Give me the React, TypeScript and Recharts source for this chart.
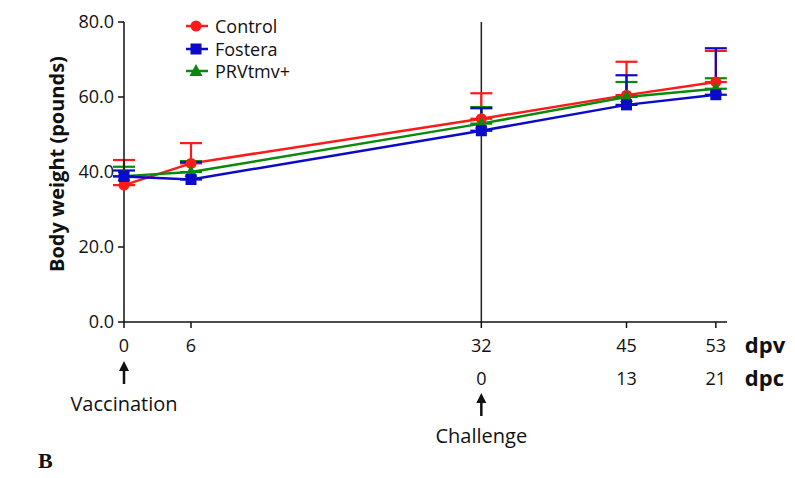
import React from "react"
import { LineChart, Line, XAxis, YAxis, ErrorBar, ReferenceLine } from "recharts"

// days post vaccination
const days = [0, 6, 32, 45, 53]
const dpcLabels = ["", "", "0", "13", "21"]
const events = [
  { day: 0, label: "Vaccination", row: 0 },
  { day: 32, label: "Challenge", row: 1 },
]

const controlMean = [36.5, 42.3, 54.2, 60.5, 64.0]
const controlSd = [6.7, 5.4, 6.8, 8.9, 8.3]
const fosteraMean = [38.8, 38.0, 51.0, 57.9, 60.6]
const fosteraSd = [1.6, 4.6, 6.0, 7.9, 12.4]
const prvMean = [38.9, 40.0, 52.9, 60.0, 62.2]
const prvSd = [2.5, 2.9, 4.4, 4.0, 2.8]

const yTicks = [0, 20, 40, 60, 80]

const RED = "#ff1a1a"
const BLUE = "#0a0ac8"
const GREEN = "#0a8a0a"
const FONT = "'Open Sans', 'Liberation Sans', sans-serif"

const data = days.map((d, i) => ({
  day: d,
  control: controlMean[i],
  controlErr: [0, controlSd[i]],
  fostera: fosteraMean[i],
  fosteraErr: [0, fosteraSd[i]],
  prv: prvMean[i],
  prvErr: [0, prvSd[i]],
}))

const series = [
  { key: "control", name: "Control", color: RED, shape: "circle" },
  { key: "prv", name: "PRVtmv+", color: GREEN, shape: "triangle" },
  { key: "fostera", name: "Fostera", color: BLUE, shape: "square" },
]
const legendOrder = ["control", "fostera", "prv"]

function Marker({ cx, cy, shape, color }: any) {
  if (cx == null || cy == null) return null
  if (shape === "circle") return <circle cx={cx} cy={cy} r={5.5} fill={color} />
  if (shape === "square") return <rect x={cx - 5.5} y={cy - 5.5} width={11} height={11} fill={color} />
  return <polygon points={`${cx},${cy - 7} ${cx - 6.5},${cy + 5} ${cx + 6.5},${cy + 5}`} fill={color} />
}

function Arrow({ x, y1, y2 }: any) {
  return (
    <g>
      <line x1={x} x2={x} y1={y1 + 6} y2={y2} stroke="#111" strokeWidth={2.5} />
      <polygon points={`${x},${y1} ${x - 5},${y1 + 10} ${x + 5},${y1 + 10}`} fill="#111" />
    </g>
  )
}

function XTick({ x, y, payload }: any) {
  const idx = days.indexOf(payload.value)
  const ev = events.find((e) => e.day === payload.value)
  const isLast = idx === days.length - 1
  return (
    <g fontFamily={FONT} fontSize={18} fill="#111">
      <text x={x} y={y + 22} textAnchor="middle" fill="#111">{payload.value}</text>
      {dpcLabels[idx] && (
        <text x={x} y={y + 55} textAnchor="middle" fill="#111">{dpcLabels[idx]}</text>
      )}
      {isLast && (
        <>
          <text x={x + 29} y={y + 23} fontWeight="bold" fontSize={22} fill="#111">dpv</text>
          <text x={x + 29} y={y + 56} fontWeight="bold" fontSize={22} fill="#111">dpc</text>
        </>
      )}
      {ev && (
        <g>
          <Arrow x={x} y1={y + 31 + ev.row * 32} y2={y + 54 + ev.row * 32} />
          <text x={x} y={y + 81 + ev.row * 32} textAnchor="middle" fontSize={20} fill="#111">{ev.label}</text>
        </g>
      )}
    </g>
  )
}

function LegendBox() {
  return (
    <div style={{ position: "absolute", left: 184, top: 15, fontFamily: FONT, fontSize: 18, color: "#111" }}>
      {legendOrder.map((k) => {
        const s = series.find((x) => x.key === k)!
        return (
          <div key={s.key} style={{ display: "flex", alignItems: "center", height: 22.5 }}>
            <svg width={26} height={16}>
              <line x1={2} x2={24} y1={8} y2={8} stroke={s.color} strokeWidth={2.5} />
              <Marker cx={12} cy={8} shape={s.shape} color={s.color} />
            </svg>
            <span style={{ marginLeft: 5, lineHeight: "22px" }}>{s.name}</span>
          </div>
        )
      })}
    </div>
  )
}

export default function App() {
  return (
    <div style={{ position: "absolute", left: 0, top: 0, width: 795, height: 478, background: "#fff" }}>
      <LineChart width={795} height={478} data={data} margin={{ top: 22, right: 68, left: 64, bottom: 96 }}>
        <XAxis
          dataKey="day"
          type="number"
          domain={[0, 54]}
          ticks={days}
          tick={<XTick />}
          tickSize={6}
          stroke="#111"
          strokeWidth={1.5}
          height={60}
          interval={0}
        />
        <YAxis
          domain={[0, 80]}
          ticks={yTicks}
          tickFormatter={(v: number) => v.toFixed(1)}
          tick={{ fontFamily: FONT, fontSize: 18, fill: "#111" }}
          tickSize={6}
          tickMargin={4}
          stroke="#111"
          strokeWidth={1.5}
          width={60}
          label={{
            value: "Body weight (pounds)",
            angle: -90,
            position: "insideLeft",
            dx: -12,
            dy: 100,
            style: { fontFamily: FONT, fontSize: 20, fontWeight: "bold", fill: "#111" },
          }}
        />
        <ReferenceLine x={32} stroke="#222" strokeWidth={1.5} />
        {series.map((s) => (
          <Line
            key={s.key}
            dataKey={s.key}
            name={s.name}
            stroke={s.color}
            strokeWidth={2.5}
            isAnimationActive={false}
            dot={(p: any) => <Marker key={`${s.key}-${p.index}`} cx={p.cx} cy={p.cy} shape={s.shape} color={s.color} />}
            activeDot={false}
          >
            <ErrorBar
              dataKey={`${s.key}Err`}
              direction="y"
              width={11}
              stroke={s.color}
              strokeWidth={2.2}
              isAnimationActive={false}
            />
          </Line>
        ))}
      </LineChart>
      <LegendBox />
      <div
        style={{
          position: "absolute",
          left: 38,
          top: 448,
          fontFamily: "'Liberation Serif', 'DejaVu Serif', serif",
          fontWeight: "bold",
          fontSize: 22,
          color: "#111",
        }}
      >
        B
      </div>
    </div>
  )
}
